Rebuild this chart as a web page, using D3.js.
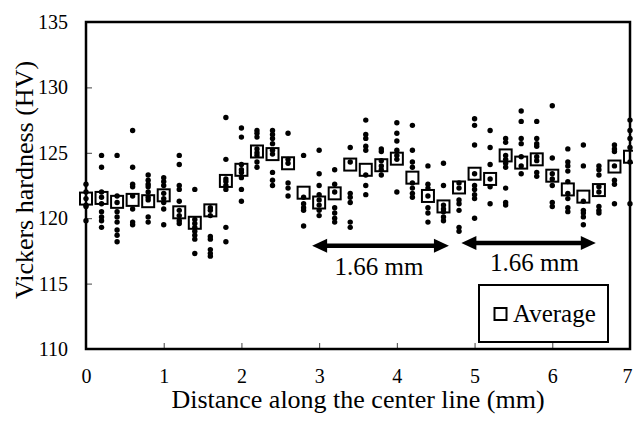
<!DOCTYPE html>
<html>
<head>
<meta charset="utf-8">
<script src="https://cdn.jsdelivr.net/npm/d3@7"></script>
<style>
  body { margin: 0; background: #fff; }
  text { font-family: "Liberation Serif", "Times New Roman", serif; fill: #000; }
</style>
</head>
<body>
<div id="chart"></div>
<script>
// measurement positions along the center line (mm)
var positions = [0, 0.2, 0.4, 0.6, 0.8, 1.0, 1.2, 1.4, 1.6, 1.8, 2.0, 2.2, 2.4, 2.6, 2.8, 3.0, 3.2, 3.4,
                 3.6, 3.8, 4.0, 4.2, 4.4, 4.6, 4.8, 5.0, 5.2, 5.4, 5.6, 5.8, 6.0, 6.2, 6.4, 6.6, 6.8, 7.0];

// average hardness at each position
var averages = [121.5, 121.55, 121.25, 121.4, 121.3, 121.75, 120.45, 119.65, 120.6, 122.85, 123.7, 125.1,
                124.9, 124.2, 121.95, 121.2, 121.9, 124.1, 123.7, 124.05, 124.55, 123.1, 121.7, 120.9,
                122.35, 123.4, 123.0, 124.8, 124.25, 124.5, 123.25, 122.2, 121.65, 122.15, 123.95, 124.7];

// individual indentations at each position
var measurements = [
    [122.6, 122.0, 121.5, 121.0, 120.9, 119.8],
    [124.8, 123.9, 122.0, 121.6, 121.1, 120.5, 120.1, 119.8, 119.3],
    [124.8, 121.7, 121.2, 120.5, 120.1, 119.7, 119.1, 118.7, 118.2],
    [126.7, 123.9, 122.6, 122.4, 121.7, 120.7, 119.7, 119.5],
    [123.3, 122.9, 122.6, 122.4, 122.0, 121.6, 121.4, 120.1, 119.7],
    [123.1, 122.8, 122.5, 121.9, 121.5, 121.2, 120.7, 119.5],
    [124.8, 124.1, 122.5, 122.2, 121.3, 120.6, 120.2, 119.8, 119.6],
    [122.2, 119.9, 119.6, 119.3, 119.0, 118.7, 118.4, 117.3],
    [120.8, 120.6, 120.2, 118.6, 118.4, 117.6, 117.3, 117.1],
    [127.7, 124.5, 123.0, 122.8, 122.5, 122.2, 119.3, 118.2],
    [126.9, 126.2, 124.1, 123.7, 123.5, 123.1, 122.2, 121.3],
    [126.7, 126.5, 126.2, 125.3, 125.0, 124.8, 124.3, 123.9],
    [126.7, 126.4, 126.1, 125.7, 125.2, 124.9, 123.5, 122.9, 122.5],
    [126.5, 124.5, 124.2, 122.7, 122.3, 121.7],
    [124.8, 121.6, 121.1, 120.8, 120.6, 119.4],
    [125.2, 123.4, 122.5, 121.8, 121.4, 121.0, 120.6, 120.2],
    [123.7, 122.6, 122.0, 120.8, 120.4, 120.0, 119.7],
    [125.4, 124.3, 121.9, 121.6, 121.2, 119.7, 119.3],
    [127.5, 126.4, 126.1, 125.5, 125.2, 123.3, 122.5, 121.8],
    [125.3, 125.1, 124.4, 124.0, 123.7, 123.3],
    [127.3, 126.5, 125.9, 125.2, 124.8, 124.5, 122.0],
    [127.1, 125.2, 124.3, 123.9, 122.7, 122.3, 121.9, 121.6],
    [124.0, 122.6, 122.3, 121.7, 120.8, 120.4, 119.7],
    [124.2, 122.5, 121.0, 120.7, 120.5, 120.1, 119.8],
    [122.7, 122.3, 121.4, 121.1, 120.6, 119.3, 119.0],
    [127.6, 127.1, 125.6, 123.4, 122.5, 122.2, 121.8, 121.5, 120.0],
    [126.7, 125.4, 124.1, 123.0, 122.4, 121.1],
    [126.1, 125.8, 124.8, 124.5, 124.2, 123.9, 122.3, 121.2, 121.0],
    [128.2, 127.4, 126.1, 125.7, 124.7, 124.0, 123.4],
    [127.4, 126.1, 125.7, 125.5, 124.7, 124.4, 123.5, 123.2],
    [128.6, 124.6, 123.4, 123.0, 122.5, 121.2, 120.9],
    [125.3, 124.3, 124.0, 123.6, 122.8, 121.9, 121.5, 120.8, 120.5],
    [125.6, 124.0, 121.3, 120.6, 120.4, 120.1, 119.5],
    [124.0, 123.7, 123.3, 122.4, 122.0, 120.9, 120.6, 120.4],
    [125.6, 125.3, 125.1, 124.0, 122.9, 122.6, 121.1],
    [127.5, 126.7, 126.1, 125.4, 124.3, 121.1]
];

var xTicks = [0, 1, 2, 3, 4, 5, 6, 7];
var yTicks = [110, 115, 120, 125, 130, 135];

// period annotations (mm, HV)
var spanStart = [2.91, 4.83];
var spanEnd = [4.67, 6.56];
var spanY = [117.9, 118.1];
var spanLabel = ["1.66 mm", "1.66 mm"];
var spanLabelX = [3.77, 5.77];
var spanLabelY = [115.66, 115.99];

var serif = '"Liberation Serif", "Times New Roman", serif';
var width = 633, height = 424;
var margin = {left: 86, top: 22, right: 3, bottom: 75};
var w = width - margin.left - margin.right;
var h = height - margin.top - margin.bottom;

var svg = d3.select("#chart").append("svg")
    .attr("width", width)
    .attr("height", height);

var g = svg.append("g")
    .attr("transform", "translate(" + margin.left + "," + margin.top + ")");

var x = d3.scaleLinear().domain([0, 7]).range([0, w]);
var y = d3.scaleLinear().domain([110, 135]).range([h, 0]);

// axes with inward ticks
var yAxis = d3.axisLeft(y).tickValues(yTicks).tickSize(-6).tickPadding(18).tickFormat(d3.format("d"));
var xAxis = d3.axisBottom(x).tickValues(xTicks).tickSize(-6).tickPadding(19.5).tickFormat(d3.format("d"));

var gy = g.append("g").call(yAxis);
var gx = g.append("g").attr("transform", "translate(0," + h + ")").call(xAxis);
[gx, gy].forEach(function(a) {
    a.attr("font-family", serif).attr("font-size", 20);
    a.select(".domain").remove();
    a.selectAll(".tick line").attr("stroke", "#444").attr("stroke-width", 1);
    a.selectAll(".tick text")
        .style("font-family", serif)
        .style("font-size", "20px")
        .attr("fill", "#000");
});
// last label sits on the window edge
gx.selectAll(".tick text").filter(function(d) { return d === 7; }).attr("dx", -3);

// individual points
var pts = [];
positions.forEach(function(p, i) {
    measurements[i].forEach(function(v) { pts.push({x: p, v: v}); });
});
g.append("g").selectAll("circle")
    .data(pts)
    .enter().append("circle")
    .attr("cx", function(d) { return x(d.x); })
    .attr("cy", function(d) { return y(d.v); })
    .attr("r", 2.7)
    .attr("fill", "#000");

// averages
var sq = 12;
g.append("g").selectAll("rect")
    .data(averages)
    .enter().append("rect")
    .attr("x", function(d, i) { return x(positions[i]) - sq / 2; })
    .attr("y", function(d) { return y(d) - sq / 2; })
    .attr("width", sq)
    .attr("height", sq)
    .attr("fill", "none")
    .attr("stroke", "#000")
    .attr("stroke-width", 2);

// frame
g.append("rect")
    .attr("x", 0).attr("y", 0)
    .attr("width", w).attr("height", h)
    .attr("fill", "none")
    .attr("stroke", "#000")
    .attr("stroke-width", 2.5);

// double arrows
spanStart.forEach(function(s, i) {
    var x1 = x(s), x2 = x(spanEnd[i]), yy = y(spanY[i]);
    var hl = 15, hw = 7;
    g.append("line")
        .attr("x1", x1 + 8).attr("x2", x2 - 8)
        .attr("y1", yy).attr("y2", yy)
        .attr("stroke", "#000").attr("stroke-width", 4.5);
    g.append("path")
        .attr("d", "M" + x1 + "," + yy + "L" + (x1 + hl) + "," + (yy - hw) + "L" + (x1 + hl) + "," + (yy + hw) + "Z")
        .attr("fill", "#000");
    g.append("path")
        .attr("d", "M" + x2 + "," + yy + "L" + (x2 - hl) + "," + (yy - hw) + "L" + (x2 - hl) + "," + (yy + hw) + "Z")
        .attr("fill", "#000");
    g.append("text")
        .attr("x", x(spanLabelX[i]))
        .attr("y", y(spanLabelY[i]))
        .attr("text-anchor", "middle")
        .style("font-size", "25px")
        .text(spanLabel[i]);
});

// legend
var lg = svg.append("g");
lg.append("rect")
    .attr("x", 479).attr("y", 285)
    .attr("width", 129).attr("height", 57)
    .attr("fill", "#fff")
    .attr("stroke", "#000")
    .attr("stroke-width", 2);
lg.append("rect")
    .attr("x", 494.5).attr("y", 308)
    .attr("width", sq).attr("height", sq)
    .attr("fill", "none")
    .attr("stroke", "#000")
    .attr("stroke-width", 2);
lg.append("text")
    .attr("x", 513).attr("y", 322)
    .style("font-size", "25px")
    .text("Average");

// axis titles
svg.append("text")
    .attr("text-anchor", "middle")
    .attr("transform", "translate(33," + 180 + ")rotate(-90)")
    .style("font-size", "26px")
    .text("Vickers hardness (HV)");

svg.append("text")
    .attr("text-anchor", "middle")
    .attr("x", margin.left + w / 2)
    .attr("y", 408)
    .style("font-size", "26px")
    .text("Distance along the center line (mm)");
</script>
</body>
</html>
